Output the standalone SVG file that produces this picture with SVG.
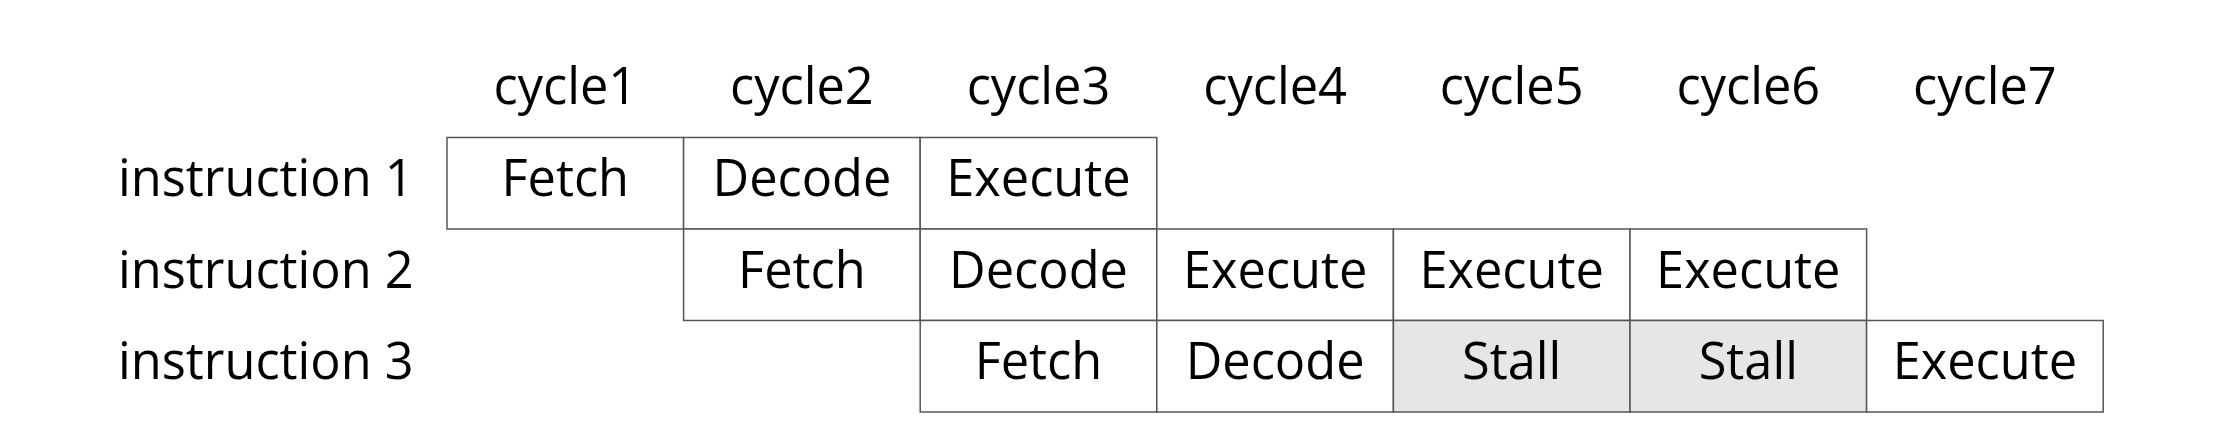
<svg xmlns="http://www.w3.org/2000/svg" width="2227" height="438" viewBox="0 0 2227 438">
<style>
text{font-family:"Open Sans","Noto Sans","DejaVu Sans",sans-serif;font-size:50.5px;fill:#000}
.c{text-anchor:middle}
.cell{fill:#fff;stroke:#555;stroke-width:1.5}
.stall{fill:#e6e6e6;stroke:#555;stroke-width:1.5}
</style>
<rect width="2227" height="438" fill="#fff"/>
<g id="header">
<text class="c" x="565.3" y="104">cycle1</text>
<text class="c" x="801.9" y="104">cycle2</text>
<text class="c" x="1038.5" y="104">cycle3</text>
<text class="c" x="1275.1" y="104">cycle4</text>
<text class="c" x="1511.7" y="104">cycle5</text>
<text class="c" x="1748.3" y="104">cycle6</text>
<text class="c" x="1984.9" y="104">cycle7</text>
</g>
<g id="rowlabels">
<text x="118" y="196">instruction 1</text>
<text x="118" y="287.5">instruction 2</text>
<text x="118" y="379">instruction 3</text>
</g>
<g id="i1">
<rect class="cell" x="447" y="137.5" width="236.6" height="91.5"/><text class="c" x="565.3" y="196">Fetch</text>
<rect class="cell" x="683.6" y="137.5" width="236.6" height="91.5"/><text class="c" x="801.9" y="196">Decode</text>
<rect class="cell" x="920.2" y="137.5" width="236.6" height="91.5"/><text class="c" x="1038.5" y="196">Execute</text>
</g>
<g id="i2">
<rect class="cell" x="683.6" y="229" width="236.6" height="91.5"/><text class="c" x="801.9" y="287.5">Fetch</text>
<rect class="cell" x="920.2" y="229" width="236.6" height="91.5"/><text class="c" x="1038.5" y="287.5">Decode</text>
<rect class="cell" x="1156.8" y="229" width="236.6" height="91.5"/><text class="c" x="1275.1" y="287.5">Execute</text>
<rect class="cell" x="1393.4" y="229" width="236.6" height="91.5"/><text class="c" x="1511.7" y="287.5">Execute</text>
<rect class="cell" x="1630" y="229" width="236.6" height="91.5"/><text class="c" x="1748.3" y="287.5">Execute</text>
</g>
<g id="i3">
<rect class="cell" x="920.2" y="320.5" width="236.6" height="91.5"/><text class="c" x="1038.5" y="379">Fetch</text>
<rect class="cell" x="1156.8" y="320.5" width="236.6" height="91.5"/><text class="c" x="1275.1" y="379">Decode</text>
<rect class="stall" x="1393.4" y="320.5" width="236.6" height="91.5"/><text class="c" x="1511.7" y="379">Stall</text>
<rect class="stall" x="1630" y="320.5" width="236.6" height="91.5"/><text class="c" x="1748.3" y="379">Stall</text>
<rect class="cell" x="1866.6" y="320.5" width="236.6" height="91.5"/><text class="c" x="1984.9" y="379">Execute</text>
</g>
<g id="connectors"></g>
</svg>
